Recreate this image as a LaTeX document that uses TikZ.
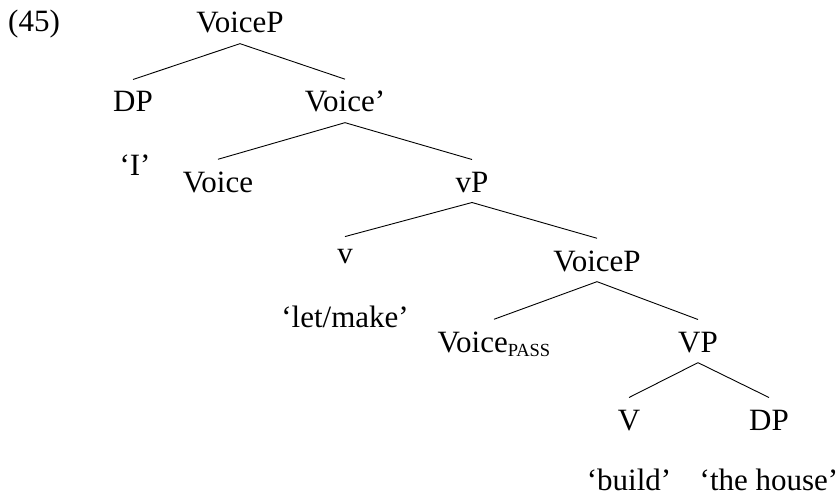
\documentclass[tikz,border=0pt]{standalone}
\usepackage{fontspec}
\setmainfont{Liberation Serif}
\usetikzlibrary{positioning}
\tikzset{
  cat/.style={anchor=base, inner sep=0pt, font=\fontsize{31}{36}\selectfont},
  gloss/.style={anchor=base, inner sep=0pt, font=\fontsize{31}{36}\selectfont},
  branch/.style={line width=0.9pt}
}
\newcommand{\passsub}{\raisebox{-4pt}{\fontsize{18.5}{18}\selectfont PASS}}
% mother (below its label) to daughter (above its label)
\newcommand{\branchto}[2]{\draw[branch] ([yshift=-10pt]#1.south) -- ([yshift=12pt]#2.north);}

\begin{document}
\begin{tikzpicture}[x=1pt, y=-1pt]
	\useasboundingbox (0,0) rectangle (840,500);
	%example number
	\node[cat, anchor=base west] (num) at (8,32) {(45)};
	%categories, level by level
	\node[cat] (voicep) at (240,33) {VoiceP};
	\node[cat] (dp) at (133,112) {DP};
	\node[cat] (voicebar) at (345,112) {Voice'};
	\node[cat] (voice) at (218,192) {Voice};
	\node[cat] (vp) at (472,192) {vP};
	\node[cat] (lv) at (345,263) {v};
	\node[cat] (voicep2) at (597,271) {VoiceP};
	\node[cat] (voicepass) at (494,352) {Voice\passsub};
	\node[cat] (bigvp) at (698,352) {VP};
	\node[cat] (bigv) at (629,430) {V};
	\node[cat] (dp2) at (769,430) {DP};
	%glosses
	\node[gloss] (gi) at (135,175) {`I'};
	\node[gloss] (glet) at (345,327) {`let/make'};
	\node[gloss] (gbuild) at (629,490) {`build'};
	\node[gloss] (ghouse) at (769,490) {`the house'};
	%branches
	\branchto{voicep}{dp}
	\branchto{voicep}{voicebar}
	\branchto{voicebar}{voice}
	\branchto{voicebar}{vp}
	\branchto{vp}{lv}
	\branchto{vp}{voicep2}
	\branchto{voicep2}{voicepass}
	\branchto{voicep2}{bigvp}
	\branchto{bigvp}{bigv}
	\branchto{bigvp}{dp2}
\end{tikzpicture}
\end{document}
